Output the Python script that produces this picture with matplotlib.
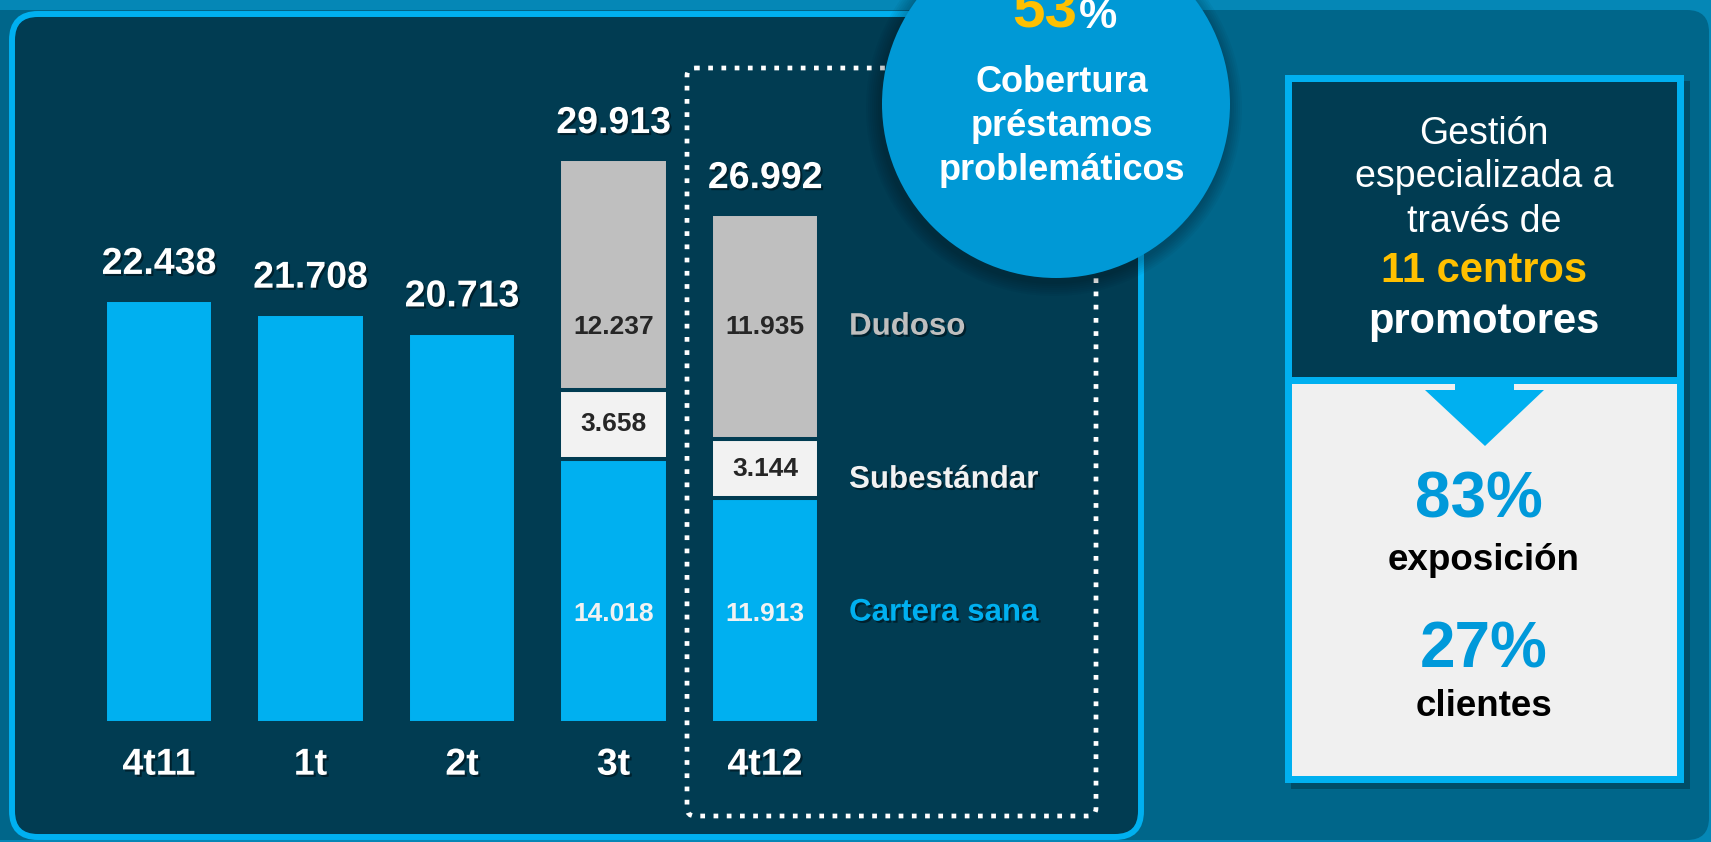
import numpy as np
import matplotlib.pyplot as plt
import matplotlib.patheffects as pe
from matplotlib.patches import Rectangle, FancyBboxPatch, Circle, Polygon

plt.rcParams['font.family'] = ['Liberation Sans', 'DejaVu Sans']

# datos (millones de euros)
trimestres = ['4t11', '1t', '2t', '3t', '4t12']
totales = [22438, 21708, 20713, 29913, 26992]
sana = [14018, 11913]
subestandar = [3658, 3144]
dudoso = [12237, 11935]
series = ['Dudoso', 'Subestándar', 'Cartera sana']
cobertura = '53'
centros = '11'
exposicion = '83%'
clientes = '27%'

CIAN = '#00b0f0'
PANEL = '#013c52'
FONDO = '#00668a'
GRIS = '#bfbfbf'
CLARO = '#f2f2f2'
OSCURO = '#262626'
AMARILLO = '#ffc000'

def fmt(v):
    return f'{v:,}'.replace(',', '.')

sombra = [pe.SimplePatchShadow(offset=(1.5, -1.5), shadow_rgbFace='black', alpha=0.45), pe.Normal()]

W, H = 1711, 842
fig = plt.figure(figsize=(W / 100, H / 100), dpi=100)
fig.patch.set_facecolor('#0587b6')

# fondo y panel izquierdo (coordenadas en pixeles)
ax_bg = fig.add_axes([0, 0, 1, 1], zorder=0)
ax_bg.set_xlim(0, W)
ax_bg.set_ylim(H, 0)
ax_bg.axis('off')
ax_bg.add_patch(FancyBboxPatch((-30, 10), W + 30 - 2, H - 12,
                               boxstyle='round,pad=0,rounding_size=22',
                               facecolor=FONDO, edgecolor='none'))
ax_bg.add_patch(FancyBboxPatch((12, 14), 1129, 823,
                               boxstyle='round,pad=0,rounding_size=26',
                               facecolor=PANEL, edgecolor=CIAN, linewidth=4.3))

# barras
px_x0, px_paso, px_base, px_por_unidad, px_techo = 159, 151.5, 723, 0.01885, 60
left = (px_x0 - 0.5 * px_paso) / W
ax = fig.add_axes([left, (H - px_base) / H, 5 * px_paso / W, (px_base - px_techo) / H], zorder=1)
ax.set_xlim(-0.5, 4.5)
ax.set_ylim(0, (px_base - px_techo) / px_por_unidad)
ax.axis('off')
ax.patch.set_alpha(0)

x = np.arange(len(trimestres))
ancho = 0.713
borde = dict(edgecolor=PANEL, linewidth=2.9)
ax.bar(x[:3], totales[:3], ancho, color=CIAN, **borde)
xs = x[3:]
ax.bar(xs, sana, ancho, color=CIAN, **borde)
ax.bar(xs, subestandar, ancho, bottom=sana, color=CLARO, **borde)
base_dud = [a + b for a, b in zip(sana, subestandar)]
ax.bar(xs, dudoso, ancho, bottom=base_dud, color=GRIS, **borde)

for xi, t in zip(x, totales):
    ax.annotate(fmt(t), (xi, t), xytext=(0, 26), textcoords='offset points',
                ha='center', va='center', color='white', fontsize=27,
                fontweight='bold', path_effects=sombra)
    ax.annotate(trimestres[xi], (xi, 0), xytext=(0, -30), textcoords='offset points',
                ha='center', va='center', color='white', fontsize=27,
                fontweight='bold', path_effects=sombra)

y_dud = base_dud[-1] + dudoso[-1] / 2
y_sana = sana[-1] / 2 - 150
for i, xi in enumerate(xs):
    ax.text(xi, y_dud, fmt(dudoso[i]), ha='center', va='center', color=OSCURO,
            fontsize=19, fontweight='bold')
    ax.text(xi, sana[i] + subestandar[i] / 2, fmt(subestandar[i]), ha='center',
            va='center', color=OSCURO, fontsize=19, fontweight='bold')
    ax.text(xi, y_sana, fmt(sana[i]), ha='center', va='center', color=CLARO,
            fontsize=19, fontweight='bold')

x_ley = 4.555
y_ley = [y_dud, sana[-1] + subestandar[-1] / 2 - 580, sana[-1] / 2 - 100]
for nombre, yl, c in zip(series, y_ley, [GRIS, CLARO, CIAN]):
    ax.text(x_ley, yl, nombre, ha='left', va='center', color=c, fontsize=22.5,
            fontweight='bold', path_effects=sombra)

# capa superior: recuadro punteado, circulo y panel derecho
ax_top = fig.add_axes([0, 0, 1, 1], zorder=2)
ax_top.set_xlim(0, W)
ax_top.set_ylim(H, 0)
ax_top.axis('off')
ax_top.patch.set_alpha(0)

ax_top.add_patch(FancyBboxPatch((687, 68), 409, 748,
                                boxstyle='round,pad=0,rounding_size=8',
                                facecolor='none', edgecolor='white', linewidth=3.4,
                                linestyle=(0, (1, 1.8))))

# circulo con sombra suave
cx, cy, r = 1056, 104, 174
for k in range(14, 0, -2):
    ax_top.add_patch(Circle((cx - 2, cy + 4), r + k, facecolor='black', alpha=0.035, edgecolor='none'))
ax_top.add_patch(Circle((cx, cy), r, facecolor='#0099d6', edgecolor='none'))
ax_top.text(1077, 28, cobertura, ha='right', va='baseline', color=AMARILLO,
            fontsize=42, fontweight='bold')
ax_top.text(1079, 28, '%', ha='left', va='baseline', color='white',
            fontsize=31, fontweight='bold')
for yb, linea in zip([92, 136, 180], ['Cobertura', 'préstamos', 'problemáticos']):
    ax_top.text(1062, yb, linea, ha='center', va='baseline', color='white',
                fontsize=26, fontweight='bold')

# panel derecho
ax_top.add_patch(Rectangle((1291, 81), 399, 708, facecolor='black', alpha=0.25, edgecolor='none'))
ax_top.add_patch(Rectangle((1285, 75), 399, 708, facecolor=CIAN, edgecolor='none'))
ax_top.add_patch(Rectangle((1292, 82), 385, 295, facecolor=PANEL, edgecolor='none'))
ax_top.add_patch(Rectangle((1292, 384), 385, 392, facecolor='#f0f0f0', edgecolor='none'))
ax_top.add_patch(Polygon([(1455, 384), (1514, 384), (1514, 390), (1544, 390),
                          (1485, 446), (1425, 390), (1455, 390)],
                         closed=True, facecolor=CIAN, edgecolor='none'))

xc = 1484
for yb, linea in zip([144, 187, 232], ['Gestión', 'especializada a', 'través de']):
    ax_top.text(xc, yb, linea, ha='center', va='baseline', color='white', fontsize=27)
ax_top.text(xc, 282, f'{centros} centros', ha='center', va='baseline', color=AMARILLO,
            fontsize=30, fontweight='bold')
ax_top.text(xc, 333, 'promotores', ha='center', va='baseline', color='white',
            fontsize=30, fontweight='bold')
ax_top.text(xc - 5, 518, exposicion, ha='center', va='baseline', color='#0099da',
            fontsize=46, fontweight='bold')
ax_top.text(xc, 570, 'exposición', ha='center', va='baseline', color='black',
            fontsize=26.5, fontweight='bold')
ax_top.text(xc, 668, clientes, ha='center', va='baseline', color='#0099da',
            fontsize=46, fontweight='bold')
ax_top.text(xc, 716, 'clientes', ha='center', va='baseline', color='black',
            fontsize=26.5, fontweight='bold')

fig.savefig('out.png', dpi=100, facecolor=fig.get_facecolor())
